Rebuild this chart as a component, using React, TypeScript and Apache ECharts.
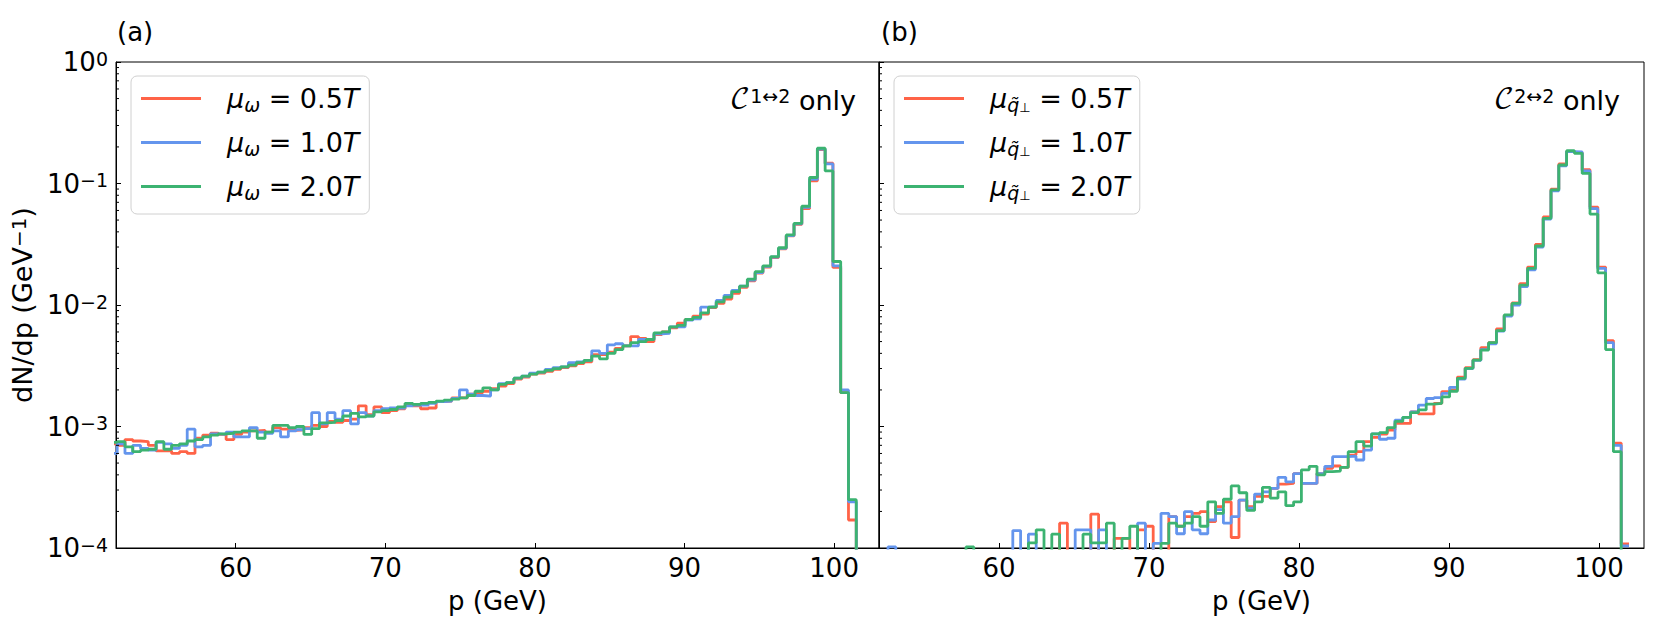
import React, { useEffect, useRef } from "react";
import * as echarts from "echarts";

// ---------------- data ----------------
// Histogram bins: left edge of the first listed bin and bin width (GeV)
const BIN_START = 51.56;
const BIN_WIDTH = 0.52;
const X_MIN = 52;
const X_MAX = 103;
const Y_MIN = 1e-4;
const Y_MAX = 1;
const ZERO_FLOOR = 1e-7; // empty bins (0 counts) drawn below the log axis

const MU_VALUES = ["0.5", "1.0", "2.0"];
const COLORS = ["#FF6347", "#6495ED", "#3CB371"];

// Panel (a): C^{1<->2} only, bins k = 3..99
const A_05 = [
  7.2e-4, 7.0e-4, 7.8e-4, 7.6e-4, 7.5e-4, 7.0e-4, 6.3e-4,
  6.3e-4, 6.0e-4, 6.2e-4, 6.0e-4, 8.0e-4, 8.5e-4, 8.8e-4, 8.6e-4, 7.8e-4, 8.6e-4,
  9.0e-4, 9.2e-4, 9.3e-4, 9.0e-4, 9.8e-4, 9.5e-4, 9.3e-4, 9.4e-4, 9.8e-4, 1.02e-3,
  1.0e-3, 1.1e-3, 1.08e-3, 1.12e-3, 1.15e-3, 1.48e-3, 1.25e-3, 1.45e-3, 1.3e-3, 1.35e-3,
  1.4e-3, 1.5e-3, 1.48e-3, 1.4e-3, 1.42e-3, 1.6e-3, 1.62e-3, 1.72e-3, 1.72e-3, 1.85e-3,
  1.9e-3, 1.95e-3, 2.05e-3, 2.15e-3, 2.25e-3, 2.45e-3, 2.55e-3, 2.7e-3, 2.75e-3, 2.85e-3,
  2.95e-3, 3.05e-3, 3.15e-3, 3.3e-3, 3.4e-3, 3.9e-3, 3.9e-3, 4.1e-3, 4.4e-3, 4.6e-3,
  5.5e-3, 5.3e-3, 5.0e-3, 5.7e-3, 6.0e-3, 6.5e-3, 7.1e-3, 7.6e-3, 8.1e-3, 8.4e-3,
  9.5e-3, 1.03e-2, 1.12e-2, 1.25e-2, 1.4e-2, 1.58e-2, 1.83e-2, 2.05e-2, 2.45e-2, 2.9e-2,
  3.7e-2, 4.6e-2, 6.2e-2, 0.105, 0.19, 0.147, 0.0204, 1.9e-3, 1.7e-4, 0,
];
const A_10 = [
  6.0e-4, 7.2e-4, 6.0e-4, 7.0e-4, 6.6e-4, 6.4e-4, 7.4e-4,
  7.2e-4, 6.6e-4, 7.0e-4, 9.5e-4, 6.8e-4, 7.0e-4, 8.7e-4, 8.6e-4, 9.0e-4, 8.2e-4,
  8.2e-4, 9.8e-4, 9.0e-4, 8.8e-4, 9.2e-4, 8.2e-4, 9.2e-4, 9.4e-4, 9.6e-4, 1.3e-3,
  1.05e-3, 1.3e-3, 1.15e-3, 1.35e-3, 1.05e-3, 1.3e-3, 1.22e-3, 1.35e-3, 1.4e-3, 1.42e-3,
  1.42e-3, 1.48e-3, 1.5e-3, 1.5e-3, 1.55e-3, 1.6e-3, 1.62e-3, 1.7e-3, 2.0e-3, 1.85e-3,
  1.8e-3, 1.78e-3, 2.0e-3, 2.25e-3, 2.3e-3, 2.5e-3, 2.6e-3, 2.75e-3, 2.8e-3, 2.95e-3,
  3.05e-3, 3.1e-3, 3.35e-3, 3.4e-3, 3.5e-3, 4.2e-3, 4.0e-3, 4.7e-3, 4.8e-3, 4.6e-3,
  4.6e-3, 5.2e-3, 5.2e-3, 5.8e-3, 5.85e-3, 6.6e-3, 6.6e-3, 7.5e-3, 7.7e-3, 9.6e-3,
  9.7e-3, 1.09e-2, 1.2e-2, 1.32e-2, 1.43e-2, 1.6e-2, 1.85e-2, 2.08e-2, 2.48e-2, 2.92e-2,
  3.72e-2, 4.65e-2, 6.35e-2, 0.108, 0.192, 0.145, 0.021, 2.0e-3, 2.4e-4, 0,
];
const A_20 = [
  7.4e-4, 7.5e-4, 6.8e-4, 6.2e-4, 6.4e-4, 6.5e-4, 7.5e-4,
  6.5e-4, 7.0e-4, 7.2e-4, 7.6e-4, 7.8e-4, 8.2e-4, 8.5e-4, 8.7e-4, 8.8e-4, 9.0e-4,
  9.2e-4, 9.2e-4, 8.0e-4, 9.0e-4, 1.02e-3, 1.02e-3, 9.8e-4, 1.0e-3, 8.6e-4, 9.6e-4,
  1.07e-3, 1.08e-3, 1.12e-3, 1.22e-3, 1.28e-3, 1.2e-3, 1.22e-3, 1.32e-3, 1.35e-3, 1.38e-3,
  1.45e-3, 1.55e-3, 1.52e-3, 1.55e-3, 1.58e-3, 1.62e-3, 1.65e-3, 1.68e-3, 1.72e-3, 1.8e-3,
  1.95e-3, 2.08e-3, 2.0e-3, 2.22e-3, 2.3e-3, 2.5e-3, 2.6e-3, 2.7e-3, 2.8e-3, 2.9e-3,
  3.0e-3, 3.1e-3, 3.2e-3, 3.35e-3, 3.5e-3, 3.8e-3, 3.6e-3, 4.0e-3, 4.3e-3, 4.6e-3,
  4.9e-3, 5.0e-3, 5.2e-3, 5.9e-3, 6.0e-3, 6.6e-3, 6.8e-3, 7.6e-3, 7.9e-3, 8.6e-3,
  9.6e-3, 1.06e-2, 1.16e-2, 1.29e-2, 1.43e-2, 1.63e-2, 1.88e-2, 2.1e-2, 2.5e-2, 2.96e-2,
  3.77e-2, 4.7e-2, 6.5e-2, 0.112, 0.195, 0.127, 0.0228, 1.9e-3, 2.5e-4, 0,
];

// Panel (b): C^{2<->2} only, bins k = 3..99
const B_05 = [
  0, 0, 0, 0, 0, 0, 0,
  0, 0, 0, 0, 0, 0, 0, 0, 0, 0,
  0, 0, 0, 0, 0, 0, 0, 1.6e-4, 0, 0,
  0, 1.9e-4, 0, 0, 1.2e-4, 1.2e-4, 0, 1.41e-4, 1.51e-4, 0,
  0, 1.81e-4, 1.51e-4, 1.81e-4, 1.93e-4, 1.99e-4, 1.65e-4, 2.19e-4, 2.4e-4, 1.22e-4,
  2.48e-4, 2.19e-4, 2.66e-4, 2.66e-4, 3.09e-4, 3.36e-4, 3.4e-4, 4.1e-4, 3.4e-4, 3.4e-4,
  4.1e-4, 4.53e-4, 4.73e-4, 4.6e-4, 5.82e-4, 6.2e-4, 7.5e-4, 8.15e-4, 8.67e-4, 9.35e-4,
  1.06e-3, 1.06e-3, 1.32e-3, 1.27e-3, 1.27e-3, 1.55e-3, 1.94e-3, 2.0e-3, 2.55e-3, 3.05e-3,
  3.55e-3, 4.45e-3, 4.9e-3, 6.35e-3, 8.2e-3, 1.04e-2, 1.5e-2, 2.05e-2, 3.15e-2, 5.3e-2,
  9.0e-2, 0.145, 0.183, 0.18, 0.13, 0.064, 0.0205, 5.1e-3, 7.3e-4, 1.08e-4,
];
const B_10 = [
  0, 0, 1.02e-4, 0, 0, 0, 0,
  0, 0, 0, 0, 0, 0, 0, 0, 0, 0,
  0, 1.39e-4, 0, 1.3e-4, 0, 0, 0, 0, 0, 1.41e-4,
  1.41e-4, 0, 1.41e-4, 0, 0, 0, 0, 1.6e-4, 0, 1.09e-4,
  1.93e-4, 1.81e-4, 1.31e-4, 1.99e-4, 1.41e-4, 1.31e-4, 1.7e-4, 2.07e-4, 1.6e-4, 1.81e-4,
  2.48e-4, 2.13e-4, 2.78e-4, 2.9e-4, 3.09e-4, 3.82e-4, 3.5e-4, 4.1e-4, 3.4e-4, 3.4e-4,
  4.1e-4, 4.7e-4, 5.65e-4, 5.65e-4, 5.7e-4, 5.3e-4, 6.4e-4, 8.7e-4, 7.85e-4, 8.0e-4,
  1.13e-3, 1.19e-3, 1.32e-3, 1.5e-3, 1.7e-3, 1.73e-3, 1.87e-3, 2.1e-3, 2.45e-3, 3.0e-3,
  3.5e-3, 4.3e-3, 4.8e-3, 6.1e-3, 8.1e-3, 1.0e-2, 1.42e-2, 1.95e-2, 3.0e-2, 5.1e-2,
  8.7e-2, 0.14, 0.183, 0.182, 0.127, 0.062, 0.02, 4.9e-3, 7.0e-4, 1.04e-4,
];
const B_20 = [
  0, 0, 0, 0, 0, 0, 0,
  0, 0, 0, 0, 0, 1.02e-4, 0, 0, 0, 0,
  0, 0, 0, 1.1e-4, 1.41e-4, 0, 1.3e-4, 0, 0, 0,
  1.3e-4, 1.1e-4, 1.1e-4, 1.6e-4, 0, 1.2e-4, 1.51e-4, 0, 0, 0,
  1.09e-4, 1.6e-4, 1.51e-4, 1.6e-4, 1.81e-4, 1.51e-4, 2.4e-4, 1.93e-4, 2.52e-4, 3.24e-4,
  2.85e-4, 2.04e-4, 2.4e-4, 3.15e-4, 2.57e-4, 2.9e-4, 2.23e-4, 2.4e-4, 4.4e-4, 4.7e-4,
  4.0e-4, 4.25e-4, 4.3e-4, 4.6e-4, 6.2e-4, 7.5e-4, 6.9e-4, 8.7e-4, 8.9e-4, 9.8e-4,
  1.1e-3, 1.19e-3, 1.3e-3, 1.37e-3, 1.53e-3, 1.55e-3, 1.75e-3, 1.95e-3, 2.49e-3, 3.01e-3,
  3.52e-3, 4.26e-3, 4.9e-3, 6.15e-3, 8.28e-3, 1.03e-2, 1.46e-2, 2.0e-2, 3.06e-2, 5.17e-2,
  8.85e-2, 0.142, 0.186, 0.177, 0.121, 0.056, 0.0184, 4.3e-3, 6.2e-4, 0,
];

// Minor tick values of the log axis (2..9 x 10^e)
const MINOR_TICKS: number[] = [];
for (let e = -4; e < 0; e++) {
  for (let m = 2; m <= 9; m++) MINOR_TICKS.push(m * Math.pow(10, e));
}

// ---------------- helpers ----------------
function toSteps(values: number[]) {
  const pts: number[][] = values.map((v, i) => [
    BIN_START + i * BIN_WIDTH,
    v > 0 ? v : ZERO_FLOOR,
  ]);
  const last = values[values.length - 1];
  pts.push([BIN_START + values.length * BIN_WIDTH, last > 0 ? last : ZERO_FLOOR]);
  return pts;
}

const FONT = "'DejaVu Sans', sans-serif";
const MATH_FONT = "'DejaVu Math TeX Gyre', 'DejaVu Sans', 'Noto Sans', sans-serif";

export default function App() {
  const ref = useRef<HTMLDivElement>(null);

  useEffect(() => {
    const el = ref.current;
    if (!el) return;
    const chart = echarts.init(el, null, { renderer: "svg" });

    const panels = [
      { key: "a", values: [A_05, A_10, A_20] },
      { key: "b", values: [B_05, B_10, B_20] },
    ];

    const grids = [
      { left: 116, top: 62, width: 763, height: 486 },
      { left: 879, top: 62, width: 765, height: 486 },
    ];

    const series: any[] = [];
    panels.forEach((p, pi) => {
      p.values.forEach((vals, si) => {
        series.push({
          name: `${p.key}${si}`,
          type: "line",
          step: "end",
          xAxisIndex: pi,
          yAxisIndex: pi,
          data: toSteps(vals),
          symbol: "none",
          showSymbol: false,
          lineStyle: { color: COLORS[si], width: 2.8 },
          itemStyle: { color: COLORS[si] },
          z: 2 + si,
          clip: true,
          silent: true,
        });
      });
      series.push({
        type: "custom",
        xAxisIndex: pi,
        yAxisIndex: pi,
        silent: true,
        z: 10,
        data: MINOR_TICKS.map((v) => [X_MIN, v]),
        renderItem: (params: any, api: any) => {
          const c = api.coord([api.value(0), api.value(1)]);
          return {
            type: "line",
            shape: { x1: c[0], y1: c[1], x2: c[0] + 3, y2: c[1] },
            style: { stroke: "#000", lineWidth: 1 },
          };
        },
      });
    });

    const supLabel = (v: number) => {
      const e = Math.round(Math.log10(v));
      const s = e < 0 ? "\u2212" + Math.abs(e) : String(e);
      return `{b|10}{s|${s}}`;
    };

    const tickRich = {
      b: { fontSize: 26, lineHeight: 26, verticalAlign: "bottom", fontFamily: FONT, color: "#000" },
      s: { fontSize: 19, lineHeight: 19, verticalAlign: "top", padding: [0, 0, 12, 0], fontFamily: FONT, color: "#000" },
    };

    const xAxes = grids.map((_, i) => ({
      type: "value",
      gridIndex: i,
      min: X_MIN,
      max: X_MAX,
      splitNumber: 5,
      minInterval: 10,
      maxInterval: 10,
      name: "p (GeV)",
      nameLocation: "middle",
      nameGap: 40,
      nameTextStyle: { fontSize: 26, fontFamily: FONT, color: "#000" },
      axisLine: { show: true, lineStyle: { color: "#000", width: 1 } },
      axisTick: { show: true, inside: true, length: 5, lineStyle: { color: "#000", width: 1 } },
      axisLabel: {
        show: true,
        margin: 7,
        fontSize: 26,
        fontFamily: FONT,
        color: "#000",
        showMinLabel: false,
        showMaxLabel: false,
      },
      splitLine: { show: false },
    }));

    const yAxes = grids.map((_, i) => ({
      type: "log",
      logBase: 10,
      gridIndex: i,
      min: Y_MIN,
      max: Y_MAX,
      name: i === 0 ? "{t|dN/dp (GeV}{s|\u22121}{t|)}" : "",
      nameLocation: "middle",
      nameRotate: 90,
      nameGap: 80,
      nameTextStyle: {
        rich: {
          t: { fontSize: 27, lineHeight: 27, verticalAlign: "bottom", fontFamily: FONT, color: "#000" },
          s: { fontSize: 20, lineHeight: 20, verticalAlign: "top", padding: [0, 0, 14, 0], fontFamily: FONT, color: "#000" },
        },
      },
      axisLine: { show: true, lineStyle: { color: "#000", width: 1 } },
      axisTick: { show: true, inside: true, length: 5, lineStyle: { color: "#000", width: 1 } },
      axisLabel: {
        show: i === 0,
        margin: 8,
        formatter: supLabel,
        showMinLabel: true,
        showMaxLabel: true,
        rich: tickRich,
      },
      splitLine: { show: false },
    }));

    const legendRich = () => ({
      gap: { width: 21, lineHeight: 31, fontSize: 27 },
      mu: { fontSize: 27, lineHeight: 31, fontStyle: "italic", fontFamily: FONT, color: "#000" },
      sub: { fontSize: 19, lineHeight: 19, verticalAlign: "bottom", fontStyle: "italic", fontFamily: FONT, color: "#000" },
      sub2: { fontSize: 13, lineHeight: 13, verticalAlign: "bottom", fontFamily: FONT, color: "#000" },
      eq: { fontSize: 27, lineHeight: 31, fontFamily: FONT, color: "#000" },
      it: { fontSize: 27, lineHeight: 31, fontStyle: "italic", fontFamily: FONT, color: "#000" },
    });

    const legendLabel = (name: string) => {
      const panel = name[0];
      const idx = Number(name.slice(1));
      const subText = panel === "a" ? "{sub|\u03c9}" : "{sub|q\u0303}{sub2|\u22a5}";
      return `{gap| }{mu|\u03bc}${subText}{eq| = ${MU_VALUES[idx]}}{it|T}`;
    };

    const legendBase = {
      orient: "vertical",
      icon: "rect",
      itemWidth: 60,
      itemHeight: 2.8,
      itemGap: 15,
      padding: [9, 10, 12, 10],
      backgroundColor: "#fff",
      borderColor: "#d0d0d0",
      borderWidth: 1,
      borderRadius: 6,
      selectedMode: false,
      formatter: legendLabel,
    };

    const annot = (x: number, label: string) => ({
      type: "text",
      x,
      y: 100,
      style: {
        text: `{c|\ud835\udc9e}{s|${label}}{o| only}`,
        align: "right",
        verticalAlign: "middle",
        rich: {
          c: { fontSize: 28, lineHeight: 28, verticalAlign: "bottom", fontFamily: MATH_FONT, fill: "#000", color: "#000" },
          s: { fontSize: 19, lineHeight: 19, verticalAlign: "top", padding: [0, 0, 12, 0], fontFamily: FONT, fill: "#000", color: "#000" },
          o: { fontSize: 27, lineHeight: 28, verticalAlign: "bottom", fontFamily: FONT, fill: "#000", color: "#000" },
        },
      },
    });

    chart.setOption({
      animation: false,
      backgroundColor: "#fff",
      grid: grids.map((g) => ({
        ...g,
        show: true,
        borderColor: "#000",
        borderWidth: 1,
        backgroundColor: "transparent",
        containLabel: false,
      })),
      xAxis: xAxes,
      yAxis: yAxes,
      legend: [
        {
          ...legendBase,
          left: 131,
          top: 76,
          data: ["a0", "a1", "a2"],
          textStyle: { rich: legendRich() },
        },
        {
          ...legendBase,
          left: 894,
          top: 76,
          data: ["b0", "b1", "b2"],
          textStyle: { rich: legendRich() },
        },
      ],
      graphic: [
        {
          type: "text",
          x: 117,
          y: 32,
          style: { text: "(a)", fontSize: 26, fontFamily: FONT, fill: "#000", verticalAlign: "middle" },
        },
        {
          type: "text",
          x: 881,
          y: 32,
          style: { text: "(b)", fontSize: 26, fontFamily: FONT, fill: "#000", verticalAlign: "middle" },
        },
        annot(856, "1\u21942"),
        annot(1620, "2\u21942"),
      ],
      series,
    });

    return () => {
      chart.dispose();
    };
  }, []);

  return (
    <div
      ref={ref}
      style={{ position: "absolute", left: 0, top: 0, width: 1661, height: 623, background: "#fff" }}
    />
  );
}
